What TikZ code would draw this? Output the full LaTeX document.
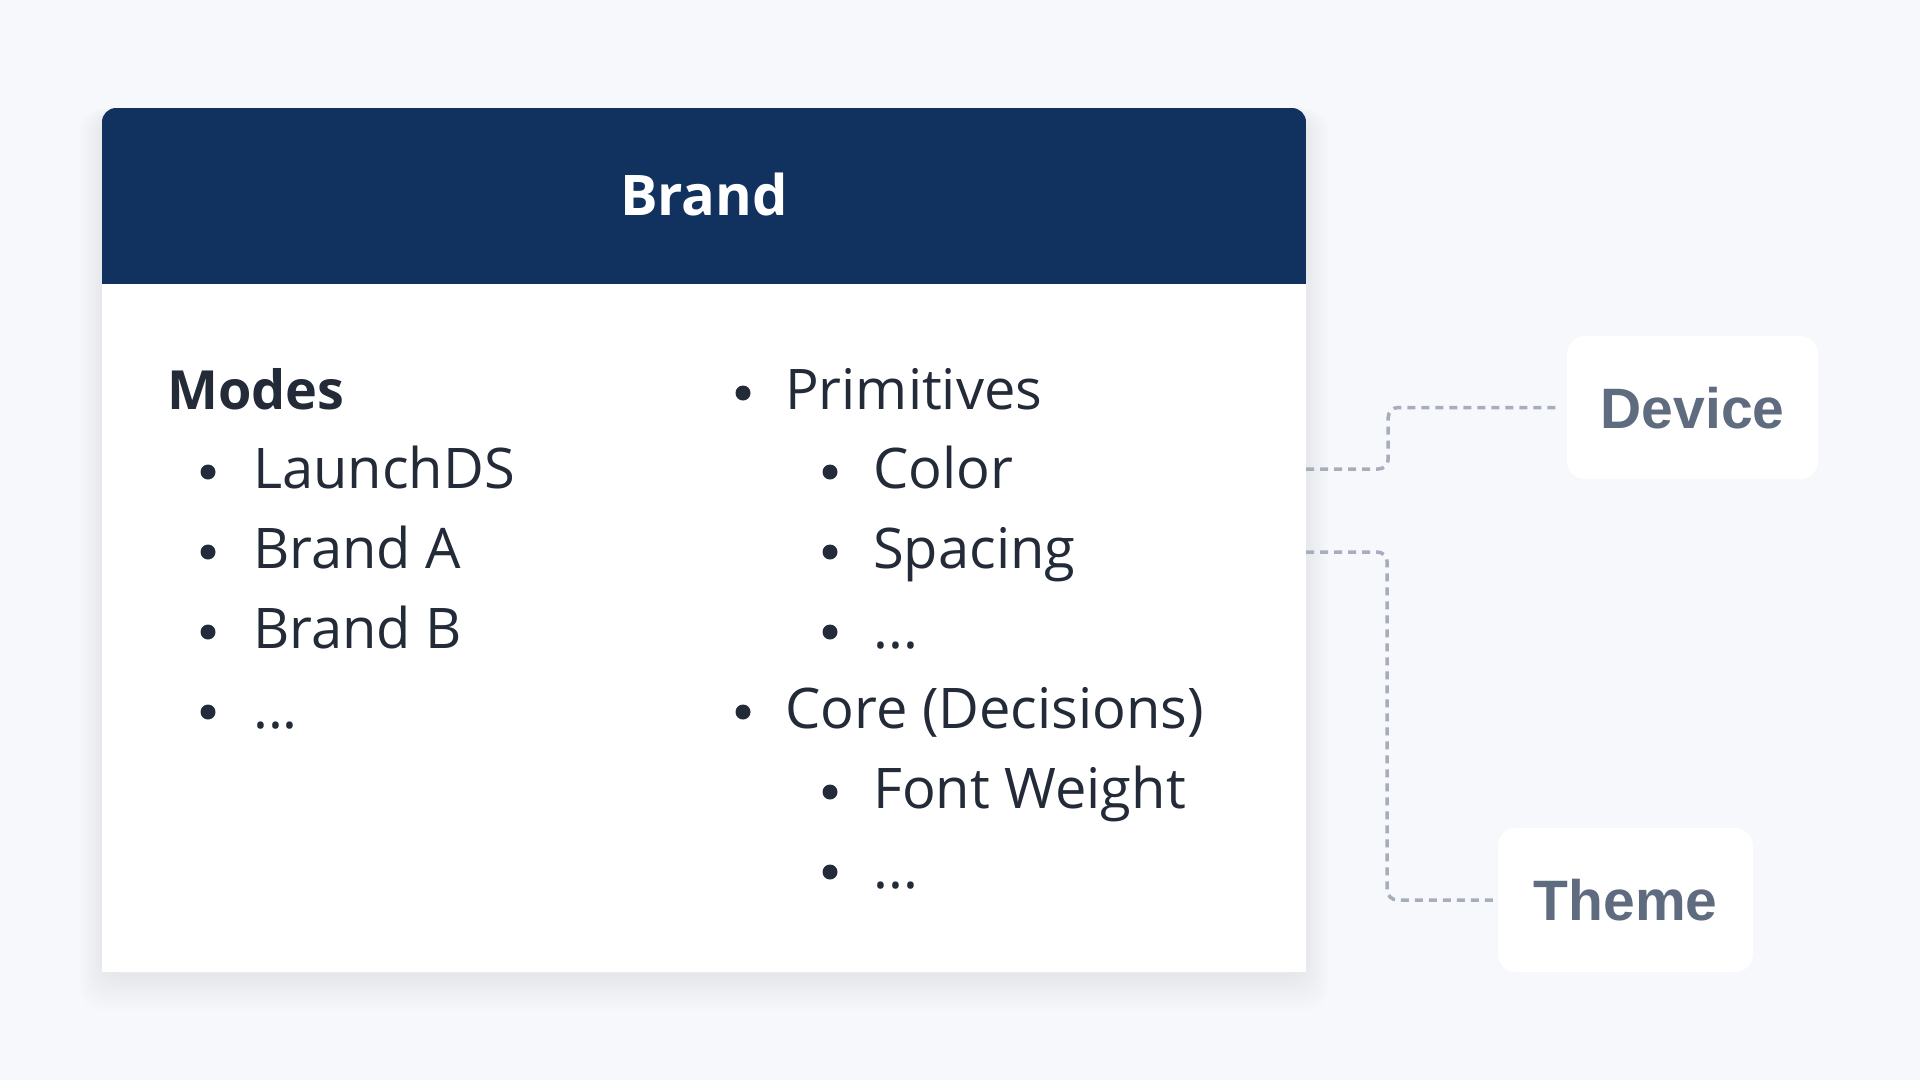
\documentclass[tikz,border=0pt]{standalone}
\usepackage{fontspec}
\setmainfont{Open Sans}
\newfontfamily\tagfont{Liberation Sans}
\definecolor{bg}{HTML}{F7F8FB}
\definecolor{navy}{HTML}{11315E}
\definecolor{ink}{HTML}{232A38}
\definecolor{slate}{HTML}{5F6B7E}
\definecolor{dashc}{HTML}{A6AEBC}
\begin{document}
\begin{tikzpicture}[x=1pt, y=-1pt,
  body/.style={font=\fontsize{56}{56}\selectfont, text=ink, anchor=base west, inner sep=0pt},
  headtxt/.style={font=\bfseries\fontsize{54}{54}\selectfont, text=ink, anchor=base west, inner sep=0pt},
  dot/.style={circle, fill=ink, minimum size=15pt, inner sep=0pt},
  card/.style={fill=white, rounded corners=14pt, minimum width=1204pt, minimum height=864pt, inner sep=0pt},
  tag/.style={fill=white, rounded corners=18pt, text=slate, font=\tagfont\bfseries\fontsize{57}{57}\selectfont,
    text height=41pt, text depth=0pt, inner sep=0pt},
  conn/.style={draw=dashc, line width=3.5pt, dash pattern=on 8pt off 6pt, rounded corners=10pt}]
\useasboundingbox (0,0) rectangle (1920,1080);
\fill[bg] (0,0) rectangle (1920,1080);

% soft shadow of the card
\foreach \i in {0,2,...,32} {
  \fill[black, fill opacity=0.0035, rounded corners=22pt]
    (102-\i*0.7, 118-\i*0.3) rectangle (1306+\i*0.7, 976+\i*1.1);
}

% card
\node[card] (card) at (704,540) {};
\begin{scope}
  \clip[rounded corners=14pt] (102,108) rectangle (1306,1060);
  \fill[white] (102,108) rectangle (1306,972);
  \fill[navy] (102,108) rectangle (1306,284);
\end{scope}
\node[text=white, font=\bfseries\fontsize{56}{56}\selectfont, text height=40pt, text depth=0pt, inner sep=0pt] (brand) at (704,195) {Brand};

% left column
\node[headtxt] (modes) at (167,409) {Modes};
\node[dot] (bl1) at (208,472) {}; \node[body] (launch) at (253,488) {LaunchDS};
\node[dot] (bl2) at (208,552) {}; \node[body] (branda) at (253,568) {Brand A};
\node[dot] (bl3) at (208,632) {}; \node[body] (brandb) at (253,648) {Brand B};
\node[dot] (bl4) at (208,712) {}; \node[body] (more1) at (253,728) {...};

% right column
\node[dot] (br1) at (743,393) {}; \node[body] (prim) at (785,409) {Primitives};
\node[dot] (br2) at (830,472) {}; \node[body] (color) at (873,488) {Color};
\node[dot] (br3) at (830,552) {}; \node[body] (spacing) at (873,568) {Spacing};
\node[dot] (br4) at (830,632) {}; \node[body] (more2) at (873,648) {...};
\node[dot] (br5) at (743,712) {}; \node[body] (core) at (785,728) {Core (Decisions)};
\node[dot] (br6) at (830,792) {}; \node[body] (fontw) at (873,808) {Font Weight};
\node[dot] (br7) at (830,872) {}; \node[body] (more3) at (873,888) {...};

% tags
\node[tag, minimum width=251pt, minimum height=143pt] (device) at (1692.5,407.5) {Device};
\node[tag, minimum width=255pt, minimum height=144pt] (theme) at (1625.5,900) {Theme};

% connectors
\coordinate (cd) at (card.east |- 0,469);
\coordinate (ct) at (card.east |- 0,552);
\draw[conn, shorten >=7pt] (cd) -- ++(82,0) |- (device.west);
\draw[conn, shorten >=5pt] (ct) -- ++(81,0) |- (theme.west);
\end{tikzpicture}
\end{document}
